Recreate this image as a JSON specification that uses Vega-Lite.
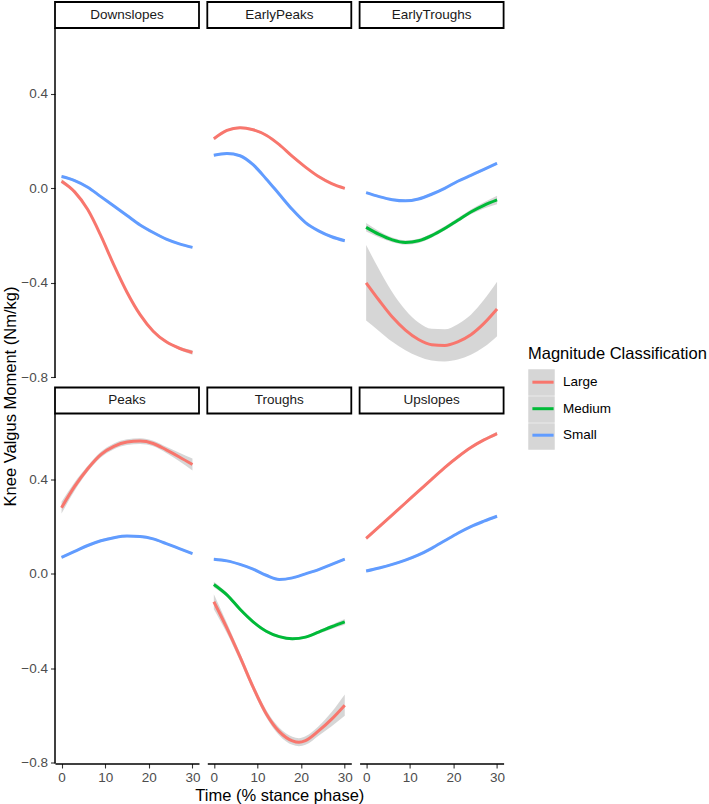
{
"$schema": "https://vega.github.io/schema/vega-lite/v6.json",
"padding": {"left": 2, "top": 1, "right": 0, "bottom": 0},
"datasets": {
"panels": [{"panel":"Downslopes"},{"panel":"EarlyPeaks"},{"panel":"EarlyTroughs"},{"panel":"Peaks"},{"panel":"Troughs"},{"panel":"Upslopes"}],
"curves": [
{"panel":"Downslopes","cls":"Large","t":0,"y":0.03,"lo":0.02,"hi":0.04},
{"panel":"Downslopes","cls":"Large","t":3,"y":-0.015,"lo":-0.021,"hi":-0.009},
{"panel":"Downslopes","cls":"Large","t":6,"y":-0.09,"lo":-0.096,"hi":-0.084},
{"panel":"Downslopes","cls":"Large","t":9,"y":-0.2,"lo":-0.206,"hi":-0.194},
{"panel":"Downslopes","cls":"Large","t":12,"y":-0.325,"lo":-0.331,"hi":-0.319},
{"panel":"Downslopes","cls":"Large","t":15,"y":-0.44,"lo":-0.446,"hi":-0.434},
{"panel":"Downslopes","cls":"Large","t":18,"y":-0.535,"lo":-0.541,"hi":-0.529},
{"panel":"Downslopes","cls":"Large","t":21,"y":-0.605,"lo":-0.611,"hi":-0.599},
{"panel":"Downslopes","cls":"Large","t":24,"y":-0.65,"lo":-0.656,"hi":-0.644},
{"panel":"Downslopes","cls":"Large","t":27,"y":-0.677,"lo":-0.683,"hi":-0.671},
{"panel":"Downslopes","cls":"Large","t":30,"y":-0.695,"lo":-0.705,"hi":-0.685},
{"panel":"Downslopes","cls":"Small","t":0,"y":0.05,"lo":0.045,"hi":0.055},
{"panel":"Downslopes","cls":"Small","t":3,"y":0.033,"lo":0.028,"hi":0.038},
{"panel":"Downslopes","cls":"Small","t":6,"y":0.005,"lo":0.0,"hi":0.01},
{"panel":"Downslopes","cls":"Small","t":9,"y":-0.035,"lo":-0.04,"hi":-0.03},
{"panel":"Downslopes","cls":"Small","t":12,"y":-0.075,"lo":-0.08,"hi":-0.07},
{"panel":"Downslopes","cls":"Small","t":15,"y":-0.115,"lo":-0.12,"hi":-0.11},
{"panel":"Downslopes","cls":"Small","t":18,"y":-0.155,"lo":-0.16,"hi":-0.15},
{"panel":"Downslopes","cls":"Small","t":21,"y":-0.187,"lo":-0.192,"hi":-0.182},
{"panel":"Downslopes","cls":"Small","t":24,"y":-0.215,"lo":-0.22,"hi":-0.21},
{"panel":"Downslopes","cls":"Small","t":27,"y":-0.235,"lo":-0.24,"hi":-0.23},
{"panel":"Downslopes","cls":"Small","t":30,"y":-0.25,"lo":-0.255,"hi":-0.245},
{"panel":"EarlyPeaks","cls":"Large","t":0,"y":0.21,"lo":0.205,"hi":0.215},
{"panel":"EarlyPeaks","cls":"Large","t":3,"y":0.245,"lo":0.24,"hi":0.25},
{"panel":"EarlyPeaks","cls":"Large","t":6,"y":0.257,"lo":0.252,"hi":0.262},
{"panel":"EarlyPeaks","cls":"Large","t":9,"y":0.248,"lo":0.243,"hi":0.253},
{"panel":"EarlyPeaks","cls":"Large","t":12,"y":0.225,"lo":0.22,"hi":0.23},
{"panel":"EarlyPeaks","cls":"Large","t":15,"y":0.185,"lo":0.18,"hi":0.19},
{"panel":"EarlyPeaks","cls":"Large","t":18,"y":0.135,"lo":0.13,"hi":0.14},
{"panel":"EarlyPeaks","cls":"Large","t":21,"y":0.09,"lo":0.085,"hi":0.095},
{"panel":"EarlyPeaks","cls":"Large","t":24,"y":0.05,"lo":0.045,"hi":0.055},
{"panel":"EarlyPeaks","cls":"Large","t":27,"y":0.02,"lo":0.015,"hi":0.025},
{"panel":"EarlyPeaks","cls":"Large","t":30,"y":0.0,"lo":-0.005,"hi":0.005},
{"panel":"EarlyPeaks","cls":"Small","t":0,"y":0.14,"lo":0.135,"hi":0.145},
{"panel":"EarlyPeaks","cls":"Small","t":3,"y":0.148,"lo":0.143,"hi":0.153},
{"panel":"EarlyPeaks","cls":"Small","t":6,"y":0.138,"lo":0.133,"hi":0.143},
{"panel":"EarlyPeaks","cls":"Small","t":9,"y":0.1,"lo":0.095,"hi":0.105},
{"panel":"EarlyPeaks","cls":"Small","t":12,"y":0.04,"lo":0.035,"hi":0.045},
{"panel":"EarlyPeaks","cls":"Small","t":15,"y":-0.025,"lo":-0.03,"hi":-0.02},
{"panel":"EarlyPeaks","cls":"Small","t":18,"y":-0.09,"lo":-0.095,"hi":-0.085},
{"panel":"EarlyPeaks","cls":"Small","t":21,"y":-0.145,"lo":-0.15,"hi":-0.14},
{"panel":"EarlyPeaks","cls":"Small","t":24,"y":-0.18,"lo":-0.185,"hi":-0.175},
{"panel":"EarlyPeaks","cls":"Small","t":27,"y":-0.205,"lo":-0.21,"hi":-0.2},
{"panel":"EarlyPeaks","cls":"Small","t":30,"y":-0.222,"lo":-0.227,"hi":-0.217},
{"panel":"EarlyTroughs","cls":"Large","t":0,"y":-0.4,"lo":-0.56,"hi":-0.24},
{"panel":"EarlyTroughs","cls":"Large","t":3,"y":-0.475,"lo":-0.605,"hi":-0.345},
{"panel":"EarlyTroughs","cls":"Large","t":6,"y":-0.545,"lo":-0.65,"hi":-0.44},
{"panel":"EarlyTroughs","cls":"Large","t":9,"y":-0.6,"lo":-0.685,"hi":-0.515},
{"panel":"EarlyTroughs","cls":"Large","t":12,"y":-0.64,"lo":-0.712,"hi":-0.568},
{"panel":"EarlyTroughs","cls":"Large","t":15,"y":-0.662,"lo":-0.729,"hi":-0.595},
{"panel":"EarlyTroughs","cls":"Large","t":18,"y":-0.665,"lo":-0.733,"hi":-0.597},
{"panel":"EarlyTroughs","cls":"Large","t":21,"y":-0.65,"lo":-0.725,"hi":-0.575},
{"panel":"EarlyTroughs","cls":"Large","t":24,"y":-0.62,"lo":-0.705,"hi":-0.535},
{"panel":"EarlyTroughs","cls":"Large","t":27,"y":-0.572,"lo":-0.672,"hi":-0.472},
{"panel":"EarlyTroughs","cls":"Large","t":30,"y":-0.511,"lo":-0.626,"hi":-0.396},
{"panel":"EarlyTroughs","cls":"Medium","t":0,"y":-0.165,"lo":-0.183,"hi":-0.147},
{"panel":"EarlyTroughs","cls":"Medium","t":3,"y":-0.195,"lo":-0.208,"hi":-0.182},
{"panel":"EarlyTroughs","cls":"Medium","t":6,"y":-0.218,"lo":-0.228,"hi":-0.208},
{"panel":"EarlyTroughs","cls":"Medium","t":9,"y":-0.229,"lo":-0.238,"hi":-0.22},
{"panel":"EarlyTroughs","cls":"Medium","t":12,"y":-0.222,"lo":-0.231,"hi":-0.213},
{"panel":"EarlyTroughs","cls":"Medium","t":15,"y":-0.2,"lo":-0.209,"hi":-0.191},
{"panel":"EarlyTroughs","cls":"Medium","t":18,"y":-0.17,"lo":-0.179,"hi":-0.161},
{"panel":"EarlyTroughs","cls":"Medium","t":21,"y":-0.135,"lo":-0.144,"hi":-0.126},
{"panel":"EarlyTroughs","cls":"Medium","t":24,"y":-0.1,"lo":-0.11,"hi":-0.09},
{"panel":"EarlyTroughs","cls":"Medium","t":27,"y":-0.072,"lo":-0.085,"hi":-0.059},
{"panel":"EarlyTroughs","cls":"Medium","t":30,"y":-0.049,"lo":-0.067,"hi":-0.031},
{"panel":"EarlyTroughs","cls":"Small","t":0,"y":-0.018,"lo":-0.023,"hi":-0.013},
{"panel":"EarlyTroughs","cls":"Small","t":3,"y":-0.035,"lo":-0.04,"hi":-0.03},
{"panel":"EarlyTroughs","cls":"Small","t":6,"y":-0.048,"lo":-0.053,"hi":-0.043},
{"panel":"EarlyTroughs","cls":"Small","t":9,"y":-0.053,"lo":-0.058,"hi":-0.048},
{"panel":"EarlyTroughs","cls":"Small","t":12,"y":-0.045,"lo":-0.05,"hi":-0.04},
{"panel":"EarlyTroughs","cls":"Small","t":15,"y":-0.025,"lo":-0.03,"hi":-0.02},
{"panel":"EarlyTroughs","cls":"Small","t":18,"y":0.0,"lo":-0.005,"hi":0.005},
{"panel":"EarlyTroughs","cls":"Small","t":21,"y":0.03,"lo":0.025,"hi":0.035},
{"panel":"EarlyTroughs","cls":"Small","t":24,"y":0.055,"lo":0.05,"hi":0.06},
{"panel":"EarlyTroughs","cls":"Small","t":27,"y":0.08,"lo":0.075,"hi":0.085},
{"panel":"EarlyTroughs","cls":"Small","t":30,"y":0.106,"lo":0.101,"hi":0.111},
{"panel":"Peaks","cls":"Large","t":0,"y":0.28,"lo":0.255,"hi":0.305},
{"panel":"Peaks","cls":"Large","t":3,"y":0.37,"lo":0.352,"hi":0.388},
{"panel":"Peaks","cls":"Large","t":6,"y":0.445,"lo":0.432,"hi":0.458},
{"panel":"Peaks","cls":"Large","t":9,"y":0.505,"lo":0.493,"hi":0.517},
{"panel":"Peaks","cls":"Large","t":12,"y":0.54,"lo":0.528,"hi":0.552},
{"panel":"Peaks","cls":"Large","t":15,"y":0.558,"lo":0.546,"hi":0.57},
{"panel":"Peaks","cls":"Large","t":18,"y":0.562,"lo":0.55,"hi":0.574},
{"panel":"Peaks","cls":"Large","t":21,"y":0.552,"lo":0.54,"hi":0.564},
{"panel":"Peaks","cls":"Large","t":24,"y":0.525,"lo":0.512,"hi":0.538},
{"panel":"Peaks","cls":"Large","t":27,"y":0.495,"lo":0.477,"hi":0.513},
{"panel":"Peaks","cls":"Large","t":30,"y":0.463,"lo":0.438,"hi":0.488},
{"panel":"Peaks","cls":"Small","t":0,"y":0.07,"lo":0.065,"hi":0.075},
{"panel":"Peaks","cls":"Small","t":3,"y":0.095,"lo":0.09,"hi":0.1},
{"panel":"Peaks","cls":"Small","t":6,"y":0.12,"lo":0.115,"hi":0.125},
{"panel":"Peaks","cls":"Small","t":9,"y":0.14,"lo":0.135,"hi":0.145},
{"panel":"Peaks","cls":"Small","t":12,"y":0.153,"lo":0.148,"hi":0.158},
{"panel":"Peaks","cls":"Small","t":15,"y":0.16,"lo":0.155,"hi":0.165},
{"panel":"Peaks","cls":"Small","t":18,"y":0.158,"lo":0.153,"hi":0.163},
{"panel":"Peaks","cls":"Small","t":21,"y":0.148,"lo":0.143,"hi":0.153},
{"panel":"Peaks","cls":"Small","t":24,"y":0.128,"lo":0.123,"hi":0.133},
{"panel":"Peaks","cls":"Small","t":27,"y":0.107,"lo":0.102,"hi":0.112},
{"panel":"Peaks","cls":"Small","t":30,"y":0.086,"lo":0.081,"hi":0.091},
{"panel":"Troughs","cls":"Large","t":0,"y":-0.118,"lo":-0.15,"hi":-0.086},
{"panel":"Troughs","cls":"Large","t":3,"y":-0.23,"lo":-0.252,"hi":-0.208},
{"panel":"Troughs","cls":"Large","t":6,"y":-0.352,"lo":-0.369,"hi":-0.335},
{"panel":"Troughs","cls":"Large","t":9,"y":-0.48,"lo":-0.495,"hi":-0.465},
{"panel":"Troughs","cls":"Large","t":12,"y":-0.592,"lo":-0.607,"hi":-0.577},
{"panel":"Troughs","cls":"Large","t":15,"y":-0.668,"lo":-0.684,"hi":-0.652},
{"panel":"Troughs","cls":"Large","t":18,"y":-0.707,"lo":-0.724,"hi":-0.69},
{"panel":"Troughs","cls":"Large","t":19.5,"y":-0.713,"lo":-0.73,"hi":-0.696},
{"panel":"Troughs","cls":"Large","t":21,"y":-0.706,"lo":-0.724,"hi":-0.688},
{"panel":"Troughs","cls":"Large","t":24,"y":-0.665,"lo":-0.685,"hi":-0.645},
{"panel":"Troughs","cls":"Large","t":27,"y":-0.615,"lo":-0.645,"hi":-0.585},
{"panel":"Troughs","cls":"Large","t":30,"y":-0.556,"lo":-0.601,"hi":-0.511},
{"panel":"Troughs","cls":"Medium","t":0,"y":-0.045,"lo":-0.057,"hi":-0.033},
{"panel":"Troughs","cls":"Medium","t":3,"y":-0.089,"lo":-0.098,"hi":-0.08},
{"panel":"Troughs","cls":"Medium","t":6,"y":-0.15,"lo":-0.157,"hi":-0.143},
{"panel":"Troughs","cls":"Medium","t":9,"y":-0.203,"lo":-0.209,"hi":-0.197},
{"panel":"Troughs","cls":"Medium","t":12,"y":-0.243,"lo":-0.249,"hi":-0.237},
{"panel":"Troughs","cls":"Medium","t":15,"y":-0.266,"lo":-0.272,"hi":-0.26},
{"panel":"Troughs","cls":"Medium","t":18,"y":-0.275,"lo":-0.281,"hi":-0.269},
{"panel":"Troughs","cls":"Medium","t":21,"y":-0.268,"lo":-0.274,"hi":-0.262},
{"panel":"Troughs","cls":"Medium","t":24,"y":-0.247,"lo":-0.254,"hi":-0.24},
{"panel":"Troughs","cls":"Medium","t":27,"y":-0.224,"lo":-0.233,"hi":-0.215},
{"panel":"Troughs","cls":"Medium","t":30,"y":-0.203,"lo":-0.215,"hi":-0.191},
{"panel":"Troughs","cls":"Small","t":0,"y":0.062,"lo":0.057,"hi":0.067},
{"panel":"Troughs","cls":"Small","t":3,"y":0.055,"lo":0.05,"hi":0.06},
{"panel":"Troughs","cls":"Small","t":6,"y":0.04,"lo":0.035,"hi":0.045},
{"panel":"Troughs","cls":"Small","t":9,"y":0.02,"lo":0.015,"hi":0.025},
{"panel":"Troughs","cls":"Small","t":12,"y":-0.006,"lo":-0.011,"hi":-0.001},
{"panel":"Troughs","cls":"Small","t":15,"y":-0.024,"lo":-0.029,"hi":-0.019},
{"panel":"Troughs","cls":"Small","t":18,"y":-0.017,"lo":-0.022,"hi":-0.012},
{"panel":"Troughs","cls":"Small","t":21,"y":0.0,"lo":-0.005,"hi":0.005},
{"panel":"Troughs","cls":"Small","t":24,"y":0.018,"lo":0.013,"hi":0.023},
{"panel":"Troughs","cls":"Small","t":27,"y":0.04,"lo":0.035,"hi":0.045},
{"panel":"Troughs","cls":"Small","t":30,"y":0.062,"lo":0.057,"hi":0.067},
{"panel":"Upslopes","cls":"Large","t":0,"y":0.15,"lo":0.144,"hi":0.156},
{"panel":"Upslopes","cls":"Large","t":3,"y":0.2,"lo":0.194,"hi":0.206},
{"panel":"Upslopes","cls":"Large","t":6,"y":0.25,"lo":0.244,"hi":0.256},
{"panel":"Upslopes","cls":"Large","t":9,"y":0.3,"lo":0.294,"hi":0.306},
{"panel":"Upslopes","cls":"Large","t":12,"y":0.35,"lo":0.344,"hi":0.356},
{"panel":"Upslopes","cls":"Large","t":15,"y":0.4,"lo":0.394,"hi":0.406},
{"panel":"Upslopes","cls":"Large","t":18,"y":0.45,"lo":0.444,"hi":0.456},
{"panel":"Upslopes","cls":"Large","t":21,"y":0.495,"lo":0.489,"hi":0.501},
{"panel":"Upslopes","cls":"Large","t":24,"y":0.535,"lo":0.529,"hi":0.541},
{"panel":"Upslopes","cls":"Large","t":27,"y":0.567,"lo":0.561,"hi":0.573},
{"panel":"Upslopes","cls":"Large","t":30,"y":0.594,"lo":0.586,"hi":0.602},
{"panel":"Upslopes","cls":"Small","t":0,"y":0.012,"lo":0.007,"hi":0.017},
{"panel":"Upslopes","cls":"Small","t":3,"y":0.025,"lo":0.02,"hi":0.03},
{"panel":"Upslopes","cls":"Small","t":6,"y":0.04,"lo":0.035,"hi":0.045},
{"panel":"Upslopes","cls":"Small","t":9,"y":0.058,"lo":0.053,"hi":0.063},
{"panel":"Upslopes","cls":"Small","t":12,"y":0.08,"lo":0.075,"hi":0.085},
{"panel":"Upslopes","cls":"Small","t":15,"y":0.108,"lo":0.103,"hi":0.113},
{"panel":"Upslopes","cls":"Small","t":18,"y":0.14,"lo":0.135,"hi":0.145},
{"panel":"Upslopes","cls":"Small","t":21,"y":0.172,"lo":0.167,"hi":0.177},
{"panel":"Upslopes","cls":"Small","t":24,"y":0.2,"lo":0.195,"hi":0.205},
{"panel":"Upslopes","cls":"Small","t":27,"y":0.223,"lo":0.218,"hi":0.228},
{"panel":"Upslopes","cls":"Small","t":30,"y":0.244,"lo":0.239,"hi":0.249}
]
},
"columns": 3,
"spacing": {"row": 9.5, "column": 8.3},
"bounds": "flush",
"concat": [
{
"width": 144, "height": 376,
"layer": [
{"data":{"name":"curves"},"transform":[{"filter":"datum.panel === 'Downslopes'"}],
 "mark":{"type":"area","interpolate":"monotone","fillOpacity":0.4,"opacity":1},
 "encoding":{
  "x":{"field":"t","type":"quantitative","scale":{"domain":[-1.5,31.5],"nice":false,"zero":false},"axis":null},
  "y":{"field":"lo","type":"quantitative","scale":{"domain":[-0.803,0.789],"nice":false,"zero":false},"axis":{"values":[-0.8,-0.4,0,0.4],"format":".1f","title":"Knee Valgus Moment (Nm/kg)","titleX":-44.5,"titleY":394,"titleAngle":270,"titleBaseline":"middle","titleAlign":"center"}},
  "y2":{"field":"hi"},
  "fill":{"field":"cls","type":"nominal","scale":{"range":["#999999","#999999","#999999"]},"legend":{"title":null,"orient":"none","legendX":473,"legendY":367,"symbolType":"square","symbolSize":702,"symbolStrokeWidth":0,"symbolOpacity":0.4,"labelOpacity":0,"labelExpr":"''","rowPadding":0,"zindex":0}}
 }},
{"data":{"name":"curves"},"transform":[{"filter":"datum.panel === 'Downslopes'"}],
 "mark":{"type":"line","interpolate":"monotone","strokeWidth":3},
 "encoding":{
  "x":{"field":"t","type":"quantitative","scale":{"domain":[-1.5,31.5],"nice":false,"zero":false},"axis":null},
  "y":{"field":"y","type":"quantitative","scale":{"domain":[-0.803,0.789],"nice":false,"zero":false},"axis":{"values":[-0.8,-0.4,0,0.4],"format":".1f","title":"Knee Valgus Moment (Nm/kg)","titleX":-44.5,"titleY":394,"titleAngle":270,"titleBaseline":"middle","titleAlign":"center"}},
  "color":{"field":"cls","type":"nominal","scale":{"domain":["Large","Medium","Small"],"range":["#F8766D","#00BA38","#619CFF"]},"legend":{"title":"Magnitude Classification","orient":"none","legendX":473,"legendY":344,"titlePadding":4.7,"symbolType":"M-0.8,0H0.8","symbolSize":702,"symbolStrokeWidth":3,"rowPadding":4.5,"labelOffset":5,"zindex":1}}
 }},
{"data":{"name":"panels"},"transform":[{"filter":"datum.panel === 'Downslopes'"}],
 "mark":{"type":"rect","fill":"white","stroke":"black","strokeWidth":1.8},
 "encoding":{"x":{"datum":-1.5,"type":"quantitative","axis":null},"x2":{"datum":31.5},"y":{"datum":0.789,"type":"quantitative","axis":{"values":[-0.8,-0.4,0,0.4],"format":".1f","title":"Knee Valgus Moment (Nm/kg)","titleX":-44.5,"titleY":394,"titleAngle":270,"titleBaseline":"middle","titleAlign":"center"}},"y2":{"datum":0.679}}},
{"data":{"name":"panels"},"transform":[{"filter":"datum.panel === 'Downslopes'"}],
 "mark":{"type":"text","fontSize":13.5,"color":"#1a1a1a"},
 "encoding":{"x":{"datum":15,"type":"quantitative","axis":null},"y":{"datum":0.734,"type":"quantitative","axis":{"values":[-0.8,-0.4,0,0.4],"format":".1f","title":"Knee Valgus Moment (Nm/kg)","titleX":-44.5,"titleY":394,"titleAngle":270,"titleBaseline":"middle","titleAlign":"center"}},"text":{"field":"panel"}}},
{"data":{"name":"panels"},"transform":[{"filter":"datum.panel === 'Downslopes'"}],
 "mark":{"type":"rule","color":"black","strokeWidth":1.5},
 "encoding":{"x":{"datum":-1.5,"type":"quantitative","axis":null},"y":{"datum":-0.803,"type":"quantitative","axis":{"values":[-0.8,-0.4,0,0.4],"format":".1f","title":"Knee Valgus Moment (Nm/kg)","titleX":-44.5,"titleY":394,"titleAngle":270,"titleBaseline":"middle","titleAlign":"center"}},"y2":{"datum":0.679}}}
]
},
{
"width": 144, "height": 376,
"layer": [
{"data":{"name":"curves"},"transform":[{"filter":"datum.panel === 'EarlyPeaks'"}],
 "mark":{"type":"area","interpolate":"monotone","fillOpacity":0.4,"opacity":1},
 "encoding":{
  "x":{"field":"t","type":"quantitative","scale":{"domain":[-1.5,31.5],"nice":false,"zero":false},"axis":null},
  "y":{"field":"lo","type":"quantitative","scale":{"domain":[-0.803,0.789],"nice":false,"zero":false},"axis":null},
  "y2":{"field":"hi"},
  "fill":{"field":"cls","type":"nominal","scale":{"range":["#999999","#999999","#999999"]},"legend":{"title":null,"orient":"none","legendX":473,"legendY":367,"symbolType":"square","symbolSize":702,"symbolStrokeWidth":0,"symbolOpacity":0.4,"labelOpacity":0,"labelExpr":"''","rowPadding":0,"zindex":0}}
 }},
{"data":{"name":"curves"},"transform":[{"filter":"datum.panel === 'EarlyPeaks'"}],
 "mark":{"type":"line","interpolate":"monotone","strokeWidth":3},
 "encoding":{
  "x":{"field":"t","type":"quantitative","scale":{"domain":[-1.5,31.5],"nice":false,"zero":false},"axis":null},
  "y":{"field":"y","type":"quantitative","scale":{"domain":[-0.803,0.789],"nice":false,"zero":false},"axis":null},
  "color":{"field":"cls","type":"nominal","scale":{"domain":["Large","Medium","Small"],"range":["#F8766D","#00BA38","#619CFF"]},"legend":{"title":"Magnitude Classification","orient":"none","legendX":473,"legendY":344,"titlePadding":4.7,"symbolType":"M-0.8,0H0.8","symbolSize":702,"symbolStrokeWidth":3,"rowPadding":4.5,"labelOffset":5,"zindex":1}}
 }},
{"data":{"name":"panels"},"transform":[{"filter":"datum.panel === 'EarlyPeaks'"}],
 "mark":{"type":"rect","fill":"white","stroke":"black","strokeWidth":1.8},
 "encoding":{"x":{"datum":-1.5,"type":"quantitative","axis":null},"x2":{"datum":31.5},"y":{"datum":0.789,"type":"quantitative","axis":null},"y2":{"datum":0.679}}},
{"data":{"name":"panels"},"transform":[{"filter":"datum.panel === 'EarlyPeaks'"}],
 "mark":{"type":"text","fontSize":13.5,"color":"#1a1a1a"},
 "encoding":{"x":{"datum":15,"type":"quantitative","axis":null},"y":{"datum":0.734,"type":"quantitative","axis":null},"text":{"field":"panel"}}}
]
},
{
"width": 144, "height": 376,
"layer": [
{"data":{"name":"curves"},"transform":[{"filter":"datum.panel === 'EarlyTroughs'"}],
 "mark":{"type":"area","interpolate":"monotone","fillOpacity":0.4,"opacity":1},
 "encoding":{
  "x":{"field":"t","type":"quantitative","scale":{"domain":[-1.5,31.5],"nice":false,"zero":false},"axis":null},
  "y":{"field":"lo","type":"quantitative","scale":{"domain":[-0.803,0.789],"nice":false,"zero":false},"axis":null},
  "y2":{"field":"hi"},
  "fill":{"field":"cls","type":"nominal","scale":{"range":["#999999","#999999","#999999"]},"legend":{"title":null,"orient":"none","legendX":473,"legendY":367,"symbolType":"square","symbolSize":702,"symbolStrokeWidth":0,"symbolOpacity":0.4,"labelOpacity":0,"labelExpr":"''","rowPadding":0,"zindex":0}}
 }},
{"data":{"name":"curves"},"transform":[{"filter":"datum.panel === 'EarlyTroughs'"}],
 "mark":{"type":"line","interpolate":"monotone","strokeWidth":3},
 "encoding":{
  "x":{"field":"t","type":"quantitative","scale":{"domain":[-1.5,31.5],"nice":false,"zero":false},"axis":null},
  "y":{"field":"y","type":"quantitative","scale":{"domain":[-0.803,0.789],"nice":false,"zero":false},"axis":null},
  "color":{"field":"cls","type":"nominal","scale":{"domain":["Large","Medium","Small"],"range":["#F8766D","#00BA38","#619CFF"]},"legend":{"title":"Magnitude Classification","orient":"none","legendX":473,"legendY":344,"titlePadding":4.7,"symbolType":"M-0.8,0H0.8","symbolSize":702,"symbolStrokeWidth":3,"rowPadding":4.5,"labelOffset":5,"zindex":1}}
 }},
{"data":{"name":"panels"},"transform":[{"filter":"datum.panel === 'EarlyTroughs'"}],
 "mark":{"type":"rect","fill":"white","stroke":"black","strokeWidth":1.8},
 "encoding":{"x":{"datum":-1.5,"type":"quantitative","axis":null},"x2":{"datum":31.5},"y":{"datum":0.789,"type":"quantitative","axis":null},"y2":{"datum":0.679}}},
{"data":{"name":"panels"},"transform":[{"filter":"datum.panel === 'EarlyTroughs'"}],
 "mark":{"type":"text","fontSize":13.5,"color":"#1a1a1a"},
 "encoding":{"x":{"datum":15,"type":"quantitative","axis":null},"y":{"datum":0.734,"type":"quantitative","axis":null},"text":{"field":"panel"}}}
]
},
{
"width": 144, "height": 376,
"layer": [
{"data":{"name":"curves"},"transform":[{"filter":"datum.panel === 'Peaks'"}],
 "mark":{"type":"area","interpolate":"monotone","fillOpacity":0.4,"opacity":1},
 "encoding":{
  "x":{"field":"t","type":"quantitative","scale":{"domain":[-1.5,31.5],"nice":false,"zero":false},"axis":{"values":[0,10,20,30],"title":null}},
  "y":{"field":"lo","type":"quantitative","scale":{"domain":[-0.803,0.789],"nice":false,"zero":false},"axis":{"values":[-0.8,-0.4,0,0.4],"format":".1f","title":null}},
  "y2":{"field":"hi"},
  "fill":{"field":"cls","type":"nominal","scale":{"range":["#999999","#999999","#999999"]},"legend":{"title":null,"orient":"none","legendX":473,"legendY":367,"symbolType":"square","symbolSize":702,"symbolStrokeWidth":0,"symbolOpacity":0.4,"labelOpacity":0,"labelExpr":"''","rowPadding":0,"zindex":0}}
 }},
{"data":{"name":"curves"},"transform":[{"filter":"datum.panel === 'Peaks'"}],
 "mark":{"type":"line","interpolate":"monotone","strokeWidth":3},
 "encoding":{
  "x":{"field":"t","type":"quantitative","scale":{"domain":[-1.5,31.5],"nice":false,"zero":false},"axis":{"values":[0,10,20,30],"title":null}},
  "y":{"field":"y","type":"quantitative","scale":{"domain":[-0.803,0.789],"nice":false,"zero":false},"axis":{"values":[-0.8,-0.4,0,0.4],"format":".1f","title":null}},
  "color":{"field":"cls","type":"nominal","scale":{"domain":["Large","Medium","Small"],"range":["#F8766D","#00BA38","#619CFF"]},"legend":{"title":"Magnitude Classification","orient":"none","legendX":473,"legendY":344,"titlePadding":4.7,"symbolType":"M-0.8,0H0.8","symbolSize":702,"symbolStrokeWidth":3,"rowPadding":4.5,"labelOffset":5,"zindex":1}}
 }},
{"data":{"name":"panels"},"transform":[{"filter":"datum.panel === 'Peaks'"}],
 "mark":{"type":"rect","fill":"white","stroke":"black","strokeWidth":1.8},
 "encoding":{"x":{"datum":-1.5,"type":"quantitative","axis":{"values":[0,10,20,30],"title":null}},"x2":{"datum":31.5},"y":{"datum":0.789,"type":"quantitative","axis":{"values":[-0.8,-0.4,0,0.4],"format":".1f","title":null}},"y2":{"datum":0.679}}},
{"data":{"name":"panels"},"transform":[{"filter":"datum.panel === 'Peaks'"}],
 "mark":{"type":"text","fontSize":13.5,"color":"#1a1a1a"},
 "encoding":{"x":{"datum":15,"type":"quantitative","axis":{"values":[0,10,20,30],"title":null}},"y":{"datum":0.734,"type":"quantitative","axis":{"values":[-0.8,-0.4,0,0.4],"format":".1f","title":null}},"text":{"field":"panel"}}},
{"data":{"name":"panels"},"transform":[{"filter":"datum.panel === 'Peaks'"}],
 "mark":{"type":"rule","color":"black","strokeWidth":1.5},
 "encoding":{"x":{"datum":-1.5,"type":"quantitative","axis":{"values":[0,10,20,30],"title":null}},"y":{"datum":-0.803,"type":"quantitative","axis":{"values":[-0.8,-0.4,0,0.4],"format":".1f","title":null}},"y2":{"datum":0.679}}}
]
},
{
"width": 144, "height": 376,
"layer": [
{"data":{"name":"curves"},"transform":[{"filter":"datum.panel === 'Troughs'"}],
 "mark":{"type":"area","interpolate":"monotone","fillOpacity":0.4,"opacity":1},
 "encoding":{
  "x":{"field":"t","type":"quantitative","scale":{"domain":[-1.5,31.5],"nice":false,"zero":false},"axis":{"values":[0,10,20,30],"title":"Time (% stance phase)"}},
  "y":{"field":"lo","type":"quantitative","scale":{"domain":[-0.803,0.789],"nice":false,"zero":false},"axis":null},
  "y2":{"field":"hi"},
  "fill":{"field":"cls","type":"nominal","scale":{"range":["#999999","#999999","#999999"]},"legend":{"title":null,"orient":"none","legendX":473,"legendY":367,"symbolType":"square","symbolSize":702,"symbolStrokeWidth":0,"symbolOpacity":0.4,"labelOpacity":0,"labelExpr":"''","rowPadding":0,"zindex":0}}
 }},
{"data":{"name":"curves"},"transform":[{"filter":"datum.panel === 'Troughs'"}],
 "mark":{"type":"line","interpolate":"monotone","strokeWidth":3},
 "encoding":{
  "x":{"field":"t","type":"quantitative","scale":{"domain":[-1.5,31.5],"nice":false,"zero":false},"axis":{"values":[0,10,20,30],"title":"Time (% stance phase)"}},
  "y":{"field":"y","type":"quantitative","scale":{"domain":[-0.803,0.789],"nice":false,"zero":false},"axis":null},
  "color":{"field":"cls","type":"nominal","scale":{"domain":["Large","Medium","Small"],"range":["#F8766D","#00BA38","#619CFF"]},"legend":{"title":"Magnitude Classification","orient":"none","legendX":473,"legendY":344,"titlePadding":4.7,"symbolType":"M-0.8,0H0.8","symbolSize":702,"symbolStrokeWidth":3,"rowPadding":4.5,"labelOffset":5,"zindex":1}}
 }},
{"data":{"name":"panels"},"transform":[{"filter":"datum.panel === 'Troughs'"}],
 "mark":{"type":"rect","fill":"white","stroke":"black","strokeWidth":1.8},
 "encoding":{"x":{"datum":-1.5,"type":"quantitative","axis":{"values":[0,10,20,30],"title":"Time (% stance phase)"}},"x2":{"datum":31.5},"y":{"datum":0.789,"type":"quantitative","axis":null},"y2":{"datum":0.679}}},
{"data":{"name":"panels"},"transform":[{"filter":"datum.panel === 'Troughs'"}],
 "mark":{"type":"text","fontSize":13.5,"color":"#1a1a1a"},
 "encoding":{"x":{"datum":15,"type":"quantitative","axis":{"values":[0,10,20,30],"title":"Time (% stance phase)"}},"y":{"datum":0.734,"type":"quantitative","axis":null},"text":{"field":"panel"}}}
]
},
{
"width": 144, "height": 376,
"layer": [
{"data":{"name":"curves"},"transform":[{"filter":"datum.panel === 'Upslopes'"}],
 "mark":{"type":"area","interpolate":"monotone","fillOpacity":0.4,"opacity":1},
 "encoding":{
  "x":{"field":"t","type":"quantitative","scale":{"domain":[-1.5,31.5],"nice":false,"zero":false},"axis":{"values":[0,10,20,30],"title":null}},
  "y":{"field":"lo","type":"quantitative","scale":{"domain":[-0.803,0.789],"nice":false,"zero":false},"axis":null},
  "y2":{"field":"hi"},
  "fill":{"field":"cls","type":"nominal","scale":{"range":["#999999","#999999","#999999"]},"legend":{"title":null,"orient":"none","legendX":473,"legendY":367,"symbolType":"square","symbolSize":702,"symbolStrokeWidth":0,"symbolOpacity":0.4,"labelOpacity":0,"labelExpr":"''","rowPadding":0,"zindex":0}}
 }},
{"data":{"name":"curves"},"transform":[{"filter":"datum.panel === 'Upslopes'"}],
 "mark":{"type":"line","interpolate":"monotone","strokeWidth":3},
 "encoding":{
  "x":{"field":"t","type":"quantitative","scale":{"domain":[-1.5,31.5],"nice":false,"zero":false},"axis":{"values":[0,10,20,30],"title":null}},
  "y":{"field":"y","type":"quantitative","scale":{"domain":[-0.803,0.789],"nice":false,"zero":false},"axis":null},
  "color":{"field":"cls","type":"nominal","scale":{"domain":["Large","Medium","Small"],"range":["#F8766D","#00BA38","#619CFF"]},"legend":{"title":"Magnitude Classification","orient":"none","legendX":473,"legendY":344,"titlePadding":4.7,"symbolType":"M-0.8,0H0.8","symbolSize":702,"symbolStrokeWidth":3,"rowPadding":4.5,"labelOffset":5,"zindex":1}}
 }},
{"data":{"name":"panels"},"transform":[{"filter":"datum.panel === 'Upslopes'"}],
 "mark":{"type":"rect","fill":"white","stroke":"black","strokeWidth":1.8},
 "encoding":{"x":{"datum":-1.5,"type":"quantitative","axis":{"values":[0,10,20,30],"title":null}},"x2":{"datum":31.5},"y":{"datum":0.789,"type":"quantitative","axis":null},"y2":{"datum":0.679}}},
{"data":{"name":"panels"},"transform":[{"filter":"datum.panel === 'Upslopes'"}],
 "mark":{"type":"text","fontSize":13.5,"color":"#1a1a1a"},
 "encoding":{"x":{"datum":15,"type":"quantitative","axis":{"values":[0,10,20,30],"title":null}},"y":{"datum":0.734,"type":"quantitative","axis":null},"text":{"field":"panel"}}}
]
}
],
"config": {
 "view": {"stroke": null},
 "font": "Liberation Sans",
 "axis": {"grid": false, "domainColor": "black", "domainWidth": 1.5, "tickColor": "#333333", "tickWidth": 1.1, "tickSize": 4.5, "labelFontSize": 13.5, "labelColor": "#4d4d4d", "labelFlush": false, "labelOverlap": false, "titleFontSize": 16.5, "titleFontWeight": "normal", "titleColor": "black", "labelFont": "Liberation Sans", "titleFont": "Liberation Sans"},
 "axisX": {"labelPadding": 2, "titlePadding": 4},
 "axisY": {"labelPadding": 3, "domain": false},
 "legend": {"padding": 0, "labelFontSize": 13.5, "labelColor": "black", "titleFontSize": 16.5, "titleFontWeight": "normal", "titleColor": "black", "labelFont": "Liberation Sans", "titleFont": "Liberation Sans"}
}
}
